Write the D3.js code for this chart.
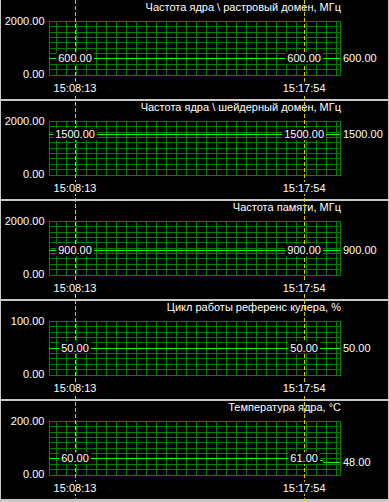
<!DOCTYPE html>
<meta charset="utf-8">
<head>
  <title>Hardware monitoring</title>
  <style>
    body { margin: 0; background: #000; }
    svg { display: block; }
    text { font-family: "Liberation Sans", Arial, sans-serif; font-size: 11px; fill: #fff; }
  </style>
</head>
<body>
  <script src="https://d3js.org/d3.v7.min.js"></script>
  <div id="my_dataviz"></div>
  <script>

    // panel titles and value ranges
    var titles = [
      "Частота ядра \\ растровый домен, МГц",
      "Частота ядра \\ шейдерный домен, МГц",
      "Частота памяти, МГц",
      "Цикл работы референс кулера, %",
      "Температура ядра, °C"
    ];
    var maxValues = [2000, 2000, 2000, 100, 200];

    // visible time window and the two cursor marks
    var timeStart = "15:07:07", timeEnd = "15:19:25";
    var cursorTimes = ["15:08:13", "15:17:54"];

    // series: [time, value]
    var coreClock = [["15:07:07", 600], ["15:19:25", 600]];
    var shaderClock = [["15:07:07", 1500], ["15:19:25", 1500]];
    var memoryClock = [["15:07:07", 900], ["15:19:25", 900]];
    var fanDuty = [["15:07:07", 50], ["15:19:25", 50]];
    var coreTemp = [["15:07:07", 60], ["15:08:13", 60], ["15:17:50", 60], ["15:17:54", 61],
                    ["15:18:27", 60], ["15:18:30", 55], ["15:18:41", 54], ["15:18:44", 48],
                    ["15:19:25", 48]];
    var series = [coreClock, shaderClock, memoryClock, fanDuty, coreTemp];

    var W = 389, H = 502, panelH = 100;
    var plotLeft = 49, plotRight = 340, plotTop = 21, plotBottom = 74.5;

    var parse = d3.timeParse("%H:%M:%S");
    var fmt = d3.format(".2f");

    var svg = d3.select("#my_dataviz")
      .append("svg")
        .attr("width", W)
        .attr("height", H);

    svg.append("rect").attr("width", W).attr("height", H).attr("fill", "#000");

    var x = d3.scaleTime()
      .domain([parse(timeStart), parse(timeEnd)])
      .range([plotLeft, plotRight]);

    // value at a given time (step lookup)
    function valueAt(data, t) {
      var tt = parse(t), v = data[0][1];
      data.forEach(function(d) { if (parse(d[0]) <= tt) v = d[1]; });
      return v;
    }

    // label with black box behind it
    function boxLabel(g, txt, px, py, anchor) {
      var t = g.append("text")
        .attr("x", px).attr("y", py)
        .attr("dy", "0.35em")
        .attr("text-anchor", anchor)
        .text(txt);
      var b = t.node().getBBox();
      g.insert("rect", function() { return t.node(); })
        .attr("x", b.x - 2).attr("y", b.y)
        .attr("width", b.width + 4).attr("height", b.height)
        .attr("fill", "#000");
    }

    var cursorLayer;

    titles.forEach(function(title, i) {
      var g = svg.append("g").attr("transform", "translate(0," + (i * panelH) + ")");
      var y = d3.scaleLinear().domain([0, maxValues[i]]).range([plotBottom, plotTop]);

      // grid
      var grid = g.append("g").attr("stroke", "#008000").attr("stroke-width", 1);
      d3.range(0, 11).forEach(function(k) {
        var yy = Math.round(y(maxValues[i] * k / 10)) + 0.5;
        grid.append("line").attr("x1", plotLeft).attr("x2", plotRight + 1)
          .attr("y1", yy).attr("y2", yy);
      });
      var cols = [plotLeft, plotRight].concat(d3.range(plotRight - 4, plotLeft + 2, -10));
      cols.forEach(function(cx) {
        grid.append("line").attr("x1", cx + 0.5).attr("x2", cx + 0.5)
          .attr("y1", Math.round(plotTop) + 0.5).attr("y2", Math.round(plotBottom) + 0.5);
      });

      // data line
      var line = d3.line()
        .x(function(d) { return x(parse(d[0])); })
        .y(function(d) { return Math.round(y(d[1])) + 0.5; });
      g.append("path")
        .datum(series[i])
        .attr("d", line)
        .attr("fill", "none")
        .attr("stroke", "#00ff00")
        .attr("stroke-width", 1);

      // title
      g.append("text")
        .attr("x", plotRight + 1).attr("y", 11)
        .attr("text-anchor", "end")
        .text(title);

      // y labels
      g.append("text").attr("x", 44.5).attr("y", y(maxValues[i])).attr("dy", "0.35em")
        .attr("text-anchor", "end").text(fmt(maxValues[i]));
      g.append("text").attr("x", 44.5).attr("y", y(0)).attr("dy", "0.35em")
        .attr("text-anchor", "end").text(fmt(0));

      // current value on the right
      var last = series[i][series[i].length - 1][1];
      g.append("text").attr("x", 343).attr("y", y(last)).attr("dy", "0.35em")
        .text(fmt(last));
    });

    // separators and frame
    d3.range(1, 5).forEach(function(k) {
      svg.append("rect").attr("x", 0).attr("y", k * panelH - 1)
        .attr("width", W).attr("height", 2).attr("fill", "#c8c8c8");
    });
    svg.append("rect").attr("x", 0).attr("y", 499).attr("width", W).attr("height", 3).attr("fill", "#c8c8c8");
    svg.append("rect").attr("x", 0).attr("y", 0).attr("width", 1).attr("height", H).attr("fill", "#c8c8c8");
    svg.append("rect").attr("x", 388).attr("y", 0).attr("width", 1).attr("height", H).attr("fill", "#c8c8c8");

    // cursor dashed lines over the whole height
    cursorTimes.forEach(function(t) {
      var cx = Math.round(x(parse(t))) + 0.5;
      svg.append("line")
        .attr("x1", cx).attr("x2", cx).attr("y1", 0).attr("y2", H)
        .attr("stroke", "#d0d000")
        .attr("stroke-dasharray", "4,2");
    });

    // cursor labels
    titles.forEach(function(title, i) {
      var g = svg.append("g").attr("transform", "translate(0," + (i * panelH) + ")");
      var y = d3.scaleLinear().domain([0, maxValues[i]]).range([plotBottom, plotTop]);
      cursorTimes.forEach(function(t) {
        var cx = x(parse(t));
        var v = valueAt(series[i], t);
        boxLabel(g, fmt(v), cx, y(v), "middle");
        boxLabel(g, t, cx, 88, "middle");
      });
    });
  </script>
</body>
